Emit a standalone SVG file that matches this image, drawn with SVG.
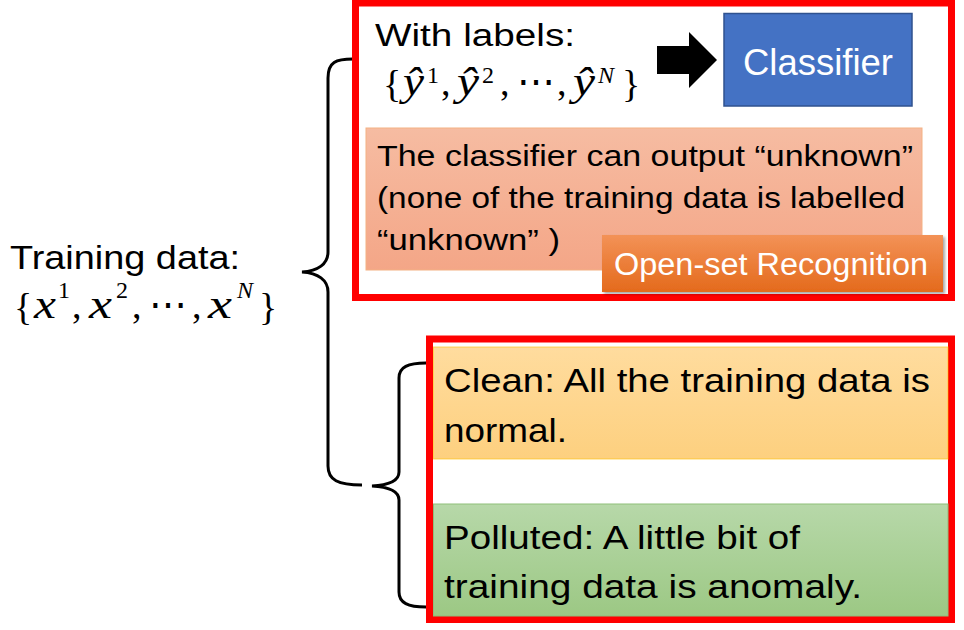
<svg xmlns="http://www.w3.org/2000/svg" width="964" height="630" viewBox="0 0 964 630">
<defs>
<linearGradient id="gSalmon" x1="0" y1="0" x2="0" y2="1"><stop offset="0" stop-color="#F6BCA2"/><stop offset="1" stop-color="#F4A687"/></linearGradient>
<linearGradient id="gOrange" x1="0" y1="0" x2="0" y2="1"><stop offset="0" stop-color="#F39257"/><stop offset="1" stop-color="#E46A1C"/></linearGradient>
<linearGradient id="gClean" x1="0" y1="0" x2="0" y2="1"><stop offset="0" stop-color="#FFDC9E"/><stop offset="1" stop-color="#FDD07F"/></linearGradient>
<linearGradient id="gGreen" x1="0" y1="0" x2="0" y2="1"><stop offset="0" stop-color="#B7D8A9"/><stop offset="1" stop-color="#9CC884"/></linearGradient>
<filter id="shadow" x="-5%" y="-10%" width="115%" height="130%"><feDropShadow dx="2" dy="2" stdDeviation="1.5" flood-color="#000" flood-opacity="0.35"/></filter>
</defs>
<style>
.t{font-family:"Liberation Sans","Noto Sans",sans-serif;fill:#000}
.w{fill:#fff}
.m{font-family:"Liberation Serif","DejaVu Serif",serif;fill:#000;font-size:38px}
.i{font-style:italic}
.s{font-size:24px}
.frame{fill:#fff;stroke:#FF0000;stroke-width:7}
.brace{fill:none;stroke:#000;stroke-width:3;stroke-linecap:butt}
</style>
<rect width="964" height="630" fill="#fff"/>

<g id="training-data">
<text class="t" x="10" y="269" font-size="33" textLength="230" lengthAdjust="spacingAndGlyphs">Training data:</text>
<text class="m"><tspan x="14" y="320">{</tspan><tspan class="i" x="34" y="318" font-size="40" textLength="22" lengthAdjust="spacingAndGlyphs">x</tspan><tspan class="s" x="58" y="298">1</tspan><tspan x="72" y="318">,</tspan><tspan class="i" x="89" y="318" font-size="40" textLength="23" lengthAdjust="spacingAndGlyphs">x</tspan><tspan class="s" x="116" y="298">2</tspan><tspan x="132" y="318">,</tspan><tspan x="149" y="318">⋯</tspan><tspan x="192" y="318">,</tspan><tspan class="i" x="208" y="318" font-size="40" textLength="24" lengthAdjust="spacingAndGlyphs">x</tspan><tspan class="s i" x="237" y="298">N</tspan><tspan x="259" y="320">}</tspan></text>
</g>

<g id="connectors">
<path class="brace" d="M353,59 C336,59 328,62 328,78 L328,252 C328,264 318,271 302,272 C318,273 328,280 328,292 L328,466 C328,480 338,485 362,485"/>
<path class="brace" d="M426,363 C408,363 399,367 399,378 L399,472 C399,480 390,485 372,486 C390,487 399,492 399,500 L399,592 C399,603 408,607 426,607"/>
</g>

<g id="supervised-box">
<rect class="frame" x="355.5" y="3" width="596" height="294.5"/>
<text class="t" x="375" y="46" font-size="31" textLength="200" lengthAdjust="spacingAndGlyphs">With labels:</text>
<text class="m"><tspan x="383" y="97">{</tspan><tspan class="i" x="403" y="95" font-size="39" textLength="21" lengthAdjust="spacingAndGlyphs">ŷ</tspan><tspan class="s" x="427" y="83">1</tspan><tspan x="441" y="95">,</tspan><tspan class="i" x="457" y="95" font-size="39" textLength="22" lengthAdjust="spacingAndGlyphs">ŷ</tspan><tspan class="s" x="482" y="83">2</tspan><tspan x="500" y="95">,</tspan><tspan x="517" y="95">⋯</tspan><tspan x="557" y="95">,</tspan><tspan class="i" x="573" y="95" font-size="39" textLength="22" lengthAdjust="spacingAndGlyphs">ŷ</tspan><tspan class="s i" x="598" y="83">N</tspan><tspan x="622" y="97">}</tspan></text>
</g>

<g id="arrow">
<polygon points="657,46 689,46 689,32 717,60 689,88 689,74 657,74" fill="#000"/>
</g>

<g id="classifier">
<rect x="724" y="13.5" width="188" height="92.5" fill="#4472C4" stroke="#2F528F" stroke-width="1.5"/>
<text class="t w" x="818" y="75" font-size="36" text-anchor="middle" textLength="150" lengthAdjust="spacingAndGlyphs">Classifier</text>
</g>

<g id="unknown-note">
<rect x="366" y="128" width="556" height="142" fill="url(#gSalmon)" stroke="#F4B183" stroke-width="1"/>
<text class="t" x="377" y="166" font-size="29" textLength="536" lengthAdjust="spacingAndGlyphs">The classifier can output “unknown”</text>
<text class="t" x="377" y="208" font-size="29" textLength="528" lengthAdjust="spacingAndGlyphs">(none of the training data is labelled</text>
<text class="t" x="377" y="250" font-size="29" textLength="183" lengthAdjust="spacingAndGlyphs">“unknown” )</text>
</g>

<g id="open-set">
<rect x="602" y="235" width="341" height="57" fill="url(#gOrange)" filter="url(#shadow)"/>
<text class="t w" x="614" y="275" font-size="31" textLength="314" lengthAdjust="spacingAndGlyphs">Open-set Recognition</text>
</g>

<g id="unsupervised-box">
<rect class="frame" x="429.5" y="339" width="522" height="280.5"/>
</g>

<g id="clean">
<rect x="433.5" y="347" width="514.5" height="112" fill="url(#gClean)" stroke="#FFC000" stroke-width="1" stroke-opacity="0.6"/>
<text class="t" x="444" y="392" font-size="33" textLength="486" lengthAdjust="spacingAndGlyphs">Clean: All the training data is</text>
<text class="t" x="444" y="442" font-size="33" textLength="123" lengthAdjust="spacingAndGlyphs">normal.</text>
</g>

<g id="polluted">
<rect x="433.5" y="504" width="514.5" height="112" fill="url(#gGreen)" stroke="#8FBF7A" stroke-width="1"/>
<text class="t" x="444" y="549" font-size="33" textLength="356" lengthAdjust="spacingAndGlyphs">Polluted: A little bit of</text>
<text class="t" x="444" y="598" font-size="33" textLength="418" lengthAdjust="spacingAndGlyphs">training data is anomaly.</text>
</g>
</svg>
